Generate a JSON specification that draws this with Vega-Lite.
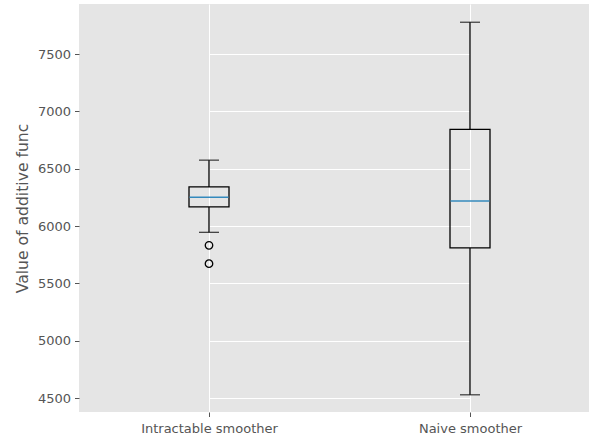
{
  "$schema": "https://vega.github.io/schema/vega-lite/v6.json",
  "autosize": "none",
  "width": 510,
  "height": 408,
  "padding": {"left": 79, "top": 4, "right": 0, "bottom": 29},
  "background": "white",
  "config": {
    "view": {"fill": "#E5E5E5", "stroke": null},
    "font": "DejaVu Sans",
    "axis": {
      "domain": false,
      "grid": true,
      "gridColor": "white",
      "gridWidth": 1,
      "tickColor": "#555555",
      "tickSize": 4.5,
      "tickWidth": 1,
      "labelColor": "#555555",
      "labelFont": "DejaVu Sans",
      "labelFontSize": 13,
      "labelPadding": 4,
      "titleFont": "DejaVu Sans",
      "titleColor": "#555555",
      "titleFontWeight": "normal",
      "titleFontSize": 15.6
    }
  },
  "datasets": {
    "boxes": [
      {"method": "Intractable smoother", "lo": 5946, "q1": 6167, "med": 6252, "q3": 6342, "hi": 6575},
      {"method": "Naive smoother", "lo": 4530, "q1": 5810, "med": 6218, "q3": 6843, "hi": 7777}
    ],
    "outliers": [
      {"method": "Intractable smoother", "value": 5833},
      {"method": "Intractable smoother", "value": 5673}
    ]
  },
  "encoding": {
    "x": {
      "field": "method",
      "type": "nominal",
      "scale": {"type": "point", "domain": ["Intractable smoother", "Naive smoother"], "range": [130, 391], "padding": 0},
      "axis": {"title": null, "labelAngle": 0, "labelPadding": 6}
    }
  },
  "layer": [
    {
      "data": {"name": "boxes"},
      "mark": {"type": "rule", "color": "black", "strokeWidth": 1.3},
      "encoding": {
        "y": {"field": "lo", "type": "quantitative", "scale": {"domain": [4380, 7936], "nice": false, "zero": false},
          "axis": {"title": "Value of additive func", "format": "d", "values": [4500, 5000, 5500, 6000, 6500, 7000, 7500], "titlePadding": 7}},
        "y2": {"field": "q1"}
      }
    },
    {
      "data": {"name": "boxes"},
      "mark": {"type": "rule", "color": "black", "strokeWidth": 1.3},
      "encoding": {
        "y": {"field": "q3", "type": "quantitative"},
        "y2": {"field": "hi"}
      }
    },
    {
      "data": {"name": "boxes"},
      "mark": {"type": "tick", "orient": "horizontal", "color": "black", "size": 20, "thickness": 1.3},
      "encoding": {"y": {"field": "hi", "type": "quantitative"}}
    },
    {
      "data": {"name": "boxes"},
      "mark": {"type": "tick", "orient": "horizontal", "color": "black", "size": 20, "thickness": 1.3},
      "encoding": {"y": {"field": "lo", "type": "quantitative"}}
    },
    {
      "data": {"name": "boxes"},
      "mark": {"type": "bar", "size": 40, "fill": "white", "fillOpacity": 0, "stroke": "black", "strokeWidth": 1.3},
      "encoding": {
        "y": {"field": "q1", "type": "quantitative"},
        "y2": {"field": "q3"}
      }
    },
    {
      "data": {"name": "boxes"},
      "mark": {"type": "tick", "orient": "horizontal", "color": "#348ABD", "size": 39, "thickness": 1.5, "opacity": 1},
      "encoding": {"y": {"field": "med", "type": "quantitative"}}
    },
    {
      "data": {"name": "outliers"},
      "mark": {"type": "point", "shape": "circle", "filled": false, "color": "black", "size": 56, "strokeWidth": 1.3, "opacity": 1},
      "encoding": {"y": {"field": "value", "type": "quantitative"}}
    }
  ]
}
